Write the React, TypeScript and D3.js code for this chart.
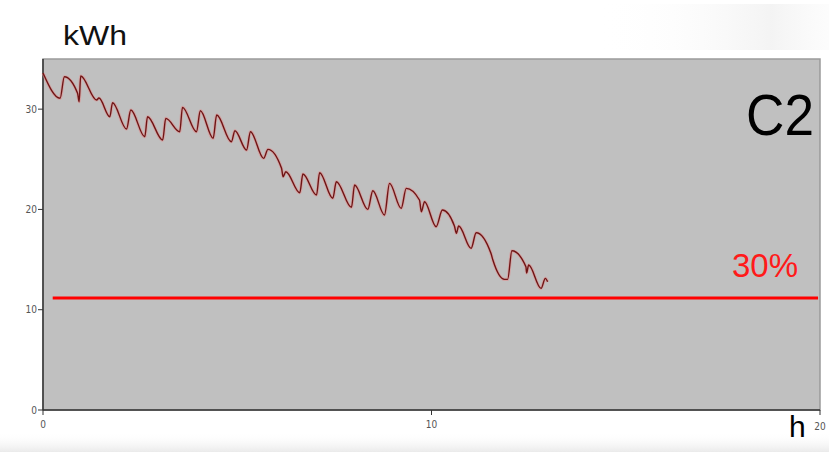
import React from "react";
import * as d3 from "d3";

const hours: number[] = [0, 0.44, 0.55, 0.89, 0.93, 0.97, 1.38, 1.44, 1.72, 1.79, 2.15, 2.26, 2.62, 2.69, 3.08, 3.16, 3.52, 3.59, 3.95, 4.05, 4.38, 4.47, 4.85, 4.94, 5.24, 5.34, 5.68, 5.79, 6.14, 6.18, 6.25, 6.61, 6.69, 7.04, 7.12, 7.46, 7.55, 7.94, 8.02, 8.36, 8.49, 8.79, 8.92, 9.22, 9.35, 9.69, 9.74, 9.82, 10.12, 10.28, 10.59, 10.64, 10.7, 11.02, 11.15, 11.53, 11.58, 11.88, 11.96, 12.07, 12.43, 12.45, 12.5, 12.82, 12.93, 12.99];
const energy: number[] = [33.6, 31.08, 33.23, 31.58, 30.74, 33.3, 30.91, 31.11, 29.24, 30.64, 28.02, 29.91, 27.25, 29.24, 26.92, 29.08, 27.75, 30.18, 27.75, 29.84, 27.09, 29.41, 26.75, 27.85, 25.92, 27.75, 25.09, 25.99, 24.1, 23.26, 23.76, 21.67, 23.53, 21.44, 23.66, 21.11, 22.76, 20.21, 22.43, 20.01, 21.86, 19.44, 22.6, 20.11, 22.1, 20.94, 19.77, 20.77, 18.28, 19.94, 18.35, 17.62, 18.35, 16.12, 17.68, 15.62, 14.96, 13.03, 13.03, 15.88, 14.29, 13.66, 14.46, 12.13, 13.13, 12.79];
const thresholdValue = 11.17;
const thresholdLabel = "30%";
const xTicks: number[] = [0, 10, 20];
const yTicks: number[] = [0, 10, 20, 30];
const yLabel = "kWh";
const xLabel = "h";
const chartTitle = "C2";

export default function App() {
  const W = 829, H = 452;
  const x = d3.scaleLinear().domain([0, 20]).range([43, 820]);
  const y = d3.scaleLinear().domain([0, 35]).range([410, 59]);
  const pts: [number, number][] = hours.map((h, i) => [h, energy[i]]);
  const line = d3.line<[number, number]>().x(d => x(d[0])).y(d => y(d[1])).curve(d3.curveMonotoneX);
  const path = line(pts) || "";
  const sans = "'Liberation Sans', Arial, sans-serif";
  const narrow = "'Liberation Sans Narrow', 'DejaVu Sans Condensed', sans-serif";
  return (
    <svg width={W} height={H} style={{ position: "absolute", left: 0, top: 0, background: "#fff" }}>
      <defs>
        <linearGradient id="topG" x1="0" y1="0" x2="1" y2="0">
          <stop offset="0" stopColor="#fff" stopOpacity="0" />
          <stop offset="0.75" stopColor="#ececec" stopOpacity="0.6" />
          <stop offset="1" stopColor="#f6f6f6" stopOpacity="0.3" />
        </linearGradient>
        <linearGradient id="botG" x1="0" y1="0" x2="0" y2="1">
          <stop offset="0" stopColor="#fff" stopOpacity="0" />
          <stop offset="1" stopColor="#e8e8e8" stopOpacity="0.9" />
        </linearGradient>
      </defs>
      <rect x={0} y={0} width={W} height={H} fill="#fff" />
      <rect x={600} y={4} width={229} height={46} fill="url(#topG)" />
      <rect x={0} y={432} width={W} height={20} fill="url(#botG)" />
      <text x={63} y={45} fontFamily={sans} fontSize={28} fill="#111" textLength={64} lengthAdjust="spacingAndGlyphs">{yLabel}</text>
      <rect x={x(0)} y={y(35)} width={x(20) - x(0)} height={y(0) - y(35)} fill="#c0c0c0" stroke="#9a9a9a" strokeWidth={1.5} />
      <line x1={x(0)} x2={x(0)} y1={y(35)} y2={y(0)} stroke="#333" strokeWidth={1.5} />
      <line x1={x(0)} x2={x(20)} y1={y(0)} y2={y(0)} stroke="#333" strokeWidth={1.5} />
      {yTicks.map(t => (
        <g key={"y" + t}>
          <line x1={x(0) - 5} x2={x(0)} y1={y(t)} y2={y(t)} stroke="#333" />
          <text x={x(0) - 6} y={y(t) + 3.5} textAnchor="end" fontFamily={narrow} fontSize={10} fill="#555">{t}</text>
        </g>
      ))}
      {xTicks.map(t => (
        <g key={"x" + t}>
          <line x1={x(t)} x2={x(t)} y1={y(0)} y2={y(0) + 5} stroke="#333" />
          <text x={x(t)} y={t === 20 ? 430 : 428} textAnchor="middle" fontFamily={narrow} fontSize={10} fill="#555">{t}</text>
        </g>
      ))}
      <line x1={x(0.25)} x2={x(19.95)} y1={y(thresholdValue)} y2={y(thresholdValue)} stroke="#ff0000" strokeWidth={3} />
      <path d={path} fill="none" stroke="#e08a8a" strokeWidth={3.2} strokeOpacity={0.55} strokeLinejoin="round" />
      <path d={path} fill="none" stroke="#6e1414" strokeWidth={1.4} strokeLinejoin="round" />
      <text x={798} y={277} textAnchor="end" fontFamily={sans} fontSize={33} fill="#ff1a1a">{thresholdLabel}</text>
      <text x={746} y={135} fontFamily={sans} fontSize={57} fill="#000" textLength={68} lengthAdjust="spacingAndGlyphs">{chartTitle}</text>
      <text x={789} y={437} fontFamily={sans} fontSize={30} fill="#000">{xLabel}</text>
    </svg>
  );
}
